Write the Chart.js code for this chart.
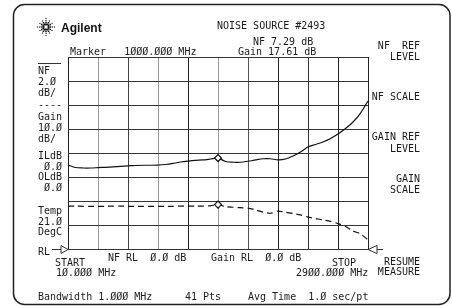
<!DOCTYPE html>
<html>
<head>
<meta charset="utf-8">
<script src="https://cdn.jsdelivr.net/npm/chart.js@4.4.0/dist/chart.umd.min.js"></script>
<style>
  body { margin: 0; background: #fff; }
  canvas { display: block; }
</style>
</head>
<body>
<canvas id="noise_fig" width="452" height="306"></canvas>
<script>
// 41 sweep points, 10 MHz .. 2900 MHz
const freqMHz = ["10","82","155","227","299","371","444","516","588","660","733","805","877","949",
  "1022","1094","1166","1238","1311","1383","1455","1527","1600","1672","1744","1816","1889","1961",
  "2033","2105","2178","2250","2322","2394","2467","2539","2611","2683","2756","2828","2900"];

// noise figure trace (dB), 2 dB/div, ref 0 dB
const nfDb = [7.00, 6.79, 6.75, 6.75, 6.78, 6.81, 6.85, 6.89, 6.93, 6.96, 6.98, 6.98, 6.99, 7.04,
  7.13, 7.25, 7.33, 7.39, 7.42, 7.50, 7.58, 7.29, 7.23, 7.23, 7.31, 7.42, 7.52, 7.52,
  7.43, 7.50, 7.75, 8.08, 8.50, 8.71, 8.92, 9.21, 9.58, 10.04, 10.58, 11.33, 12.33];

// gain trace (dB), 10 dB/div, ref 0 dB
const gainDb = [17.9, 17.9, 17.8, 17.8, 17.8, 17.8, 17.9, 17.9, 17.8, 17.8, 17.8, 17.8, 17.8, 17.8,
  17.8, 17.9, 17.9, 17.9, 17.9, 18.0, 18.5, 17.6, 17.4, 17.2, 17.0, 16.3, 15.4, 14.9,
  15.8, 15.3, 14.8, 14.2, 13.3, 12.7, 12.1, 11.5, 10.6, 9.4, 7.5, 6.3, 3.8];

const markerIdx = 20;
const nfScale = {min: 0, max: 16, step: 2};
const gainScale = {min: 0, max: 80};

// shade of each vertical division line, like the old printout
const vGridShade = ["#222","#999","#444","#999","#222","#999","#555","#222","#333","#222","#222"];

const MONO = '10px "DejaVu Sans Mono"';

function markerSizes(n){
  return freqMHz.map((f,i) => i === markerIdx ? n : 0);
}

const panelText = {
  id: "panelText",
  afterDraw(chart){
    const ctx = chart.ctx;
    ctx.save();

    // outer rounded frame
    ctx.strokeStyle = "#222";
    ctx.lineWidth = 1.5;
    ctx.beginPath();
    ctx.roundRect(13.5, 4.5, 436.5, 300, 11);
    ctx.stroke();

    // logo spark
    const cx = 46, cy = 27;
    ctx.fillStyle = "#111";
    for (let k = 0; k < 12; k++){
      const a = k * Math.PI / 6;
      const rays = (k % 3 === 0) ? [2.5, 4.5, 6.5, 8.5] : [3, 5, 7];
      rays.forEach((r, j) => {
        const s = j === 0 ? 1.8 : (j === 1 ? 1.5 : 1.1);
        ctx.fillRect(cx + Math.cos(a) * r - s/2, cy + Math.sin(a) * r - s/2, s, s);
      });
    }
    ctx.font = 'bold 12px "Liberation Sans"';
    ctx.textBaseline = "alphabetic";
    ctx.textAlign = "left";
    ctx.fillText("Agilent", 61, 32);

    ctx.font = MONO;
    ctx.fillStyle = "#1a1a1a";
    ctx.textBaseline = "middle";

    const left = [
      ["NOISE SOURCE #2493", 217, 26],
      ["NF 7.29 dB", 253, 42],
      ["Gain 17.61 dB", 238, 52],
      ["Marker   1ØØØ.ØØØ MHz", 70, 52],
      ["NF", 38, 71], ["2.Ø", 38, 82], ["dB/", 38, 93],
      ["----", 38, 105],
      ["Gain", 38, 117], ["1Ø.Ø", 38, 128], ["dB/", 38, 139],
      ["ILdB", 38, 156], [" Ø.Ø", 38, 167], ["OLdB", 38, 177], [" Ø.Ø", 38, 188],
      ["Temp", 38, 211], ["21.Ø", 38, 222], ["DegC", 38, 232],
      ["RL", 38, 252],
      ["START", 55, 263], ["1Ø.ØØØ MHz", 56, 273],
      ["NF RL  Ø.Ø dB", 108, 258],
      ["Gain RL  Ø.Ø dB", 211, 258],
      ["STOP", 332, 263], ["29ØØ.ØØØ MHz", 296, 273],
      ["Bandwidth 1.ØØØ MHz", 38, 297],
      ["41 Pts", 185, 297],
      ["Avg Time  1.Ø sec/pt", 248, 297]
    ];
    left.forEach(([t, x, y]) => ctx.fillText(t, x, y));

    ctx.textAlign = "right";
    const right = [
      ["NF  REF", 46], ["LEVEL", 57],
      ["NF SCALE", 97],
      ["GAIN REF", 137], ["LEVEL", 149],
      ["GAIN", 179], ["SCALE", 190],
      ["RESUME", 262], ["MEASURE", 272]
    ];
    right.forEach(([t, y]) => ctx.fillText(t, 420, y));

    // separator above NF label
    ctx.strokeStyle = "#333";
    ctx.lineWidth = 1;
    ctx.beginPath();
    ctx.moveTo(38, 63.5); ctx.lineTo(61, 63.5);
    ctx.stroke();

    // reference level arrows
    const a = chart.chartArea;
    const yb = Math.round(a.bottom) + 0.5;
    ctx.beginPath();
    ctx.moveTo(52, yb); ctx.lineTo(61, yb);
    ctx.moveTo(61, yb - 4); ctx.lineTo(a.left, yb); ctx.lineTo(61, yb + 4); ctx.closePath();
    ctx.moveTo(a.right + 9, yb - 4); ctx.lineTo(a.right, yb); ctx.lineTo(a.right + 9, yb + 4); ctx.closePath();
    ctx.moveTo(a.right + 9, yb); ctx.lineTo(a.right + 15, yb);
    ctx.stroke();

    ctx.restore();
  }
};

new Chart("noise_fig", {
  type: "line",
  data: {
    labels: freqMHz,
    datasets: [{
      label: "NF",
      data: nfDb,
      yAxisID: "y",
      borderColor: "#111",
      borderWidth: 1.2,
      tension: 0.25,
      pointStyle: "rectRot",
      pointRadius: markerSizes(3.5),
      pointBackgroundColor: "#fff",
      pointBorderColor: "#111",
      pointBorderWidth: 1.2
    }, {
      label: "Gain",
      data: gainDb,
      yAxisID: "y2",
      borderColor: "#111",
      borderWidth: 1.2,
      borderDash: [6, 4],
      tension: 0.25,
      pointStyle: "rectRot",
      pointRadius: markerSizes(3.5),
      pointBackgroundColor: "#fff",
      pointBorderColor: "#111",
      pointBorderWidth: 1.2
    }]
  },
  options: {
    responsive: false,
    animation: false,
    devicePixelRatio: 1,
    layout: { padding: { left: 68, right: 84, top: 57, bottom: 57 } },
    plugins: { legend: { display: false }, tooltip: { enabled: false } },
    scales: {
      x: {
        ticks: { display: false },
        grid: {
          drawTicks: false,
          lineWidth: 1,
          color: c => c.index % 4 === 0 ? vGridShade[c.index / 4] : "transparent"
        },
        border: { display: false }
      },
      y: {
        min: nfScale.min,
        max: nfScale.max,
        ticks: { display: false, stepSize: nfScale.step },
        grid: { drawTicks: false, color: "#333", lineWidth: 1 },
        border: { display: false }
      },
      y2: {
        display: false,
        min: gainScale.min,
        max: gainScale.max
      }
    }
  },
  plugins: [panelText]
});
</script>
</body>
</html>
